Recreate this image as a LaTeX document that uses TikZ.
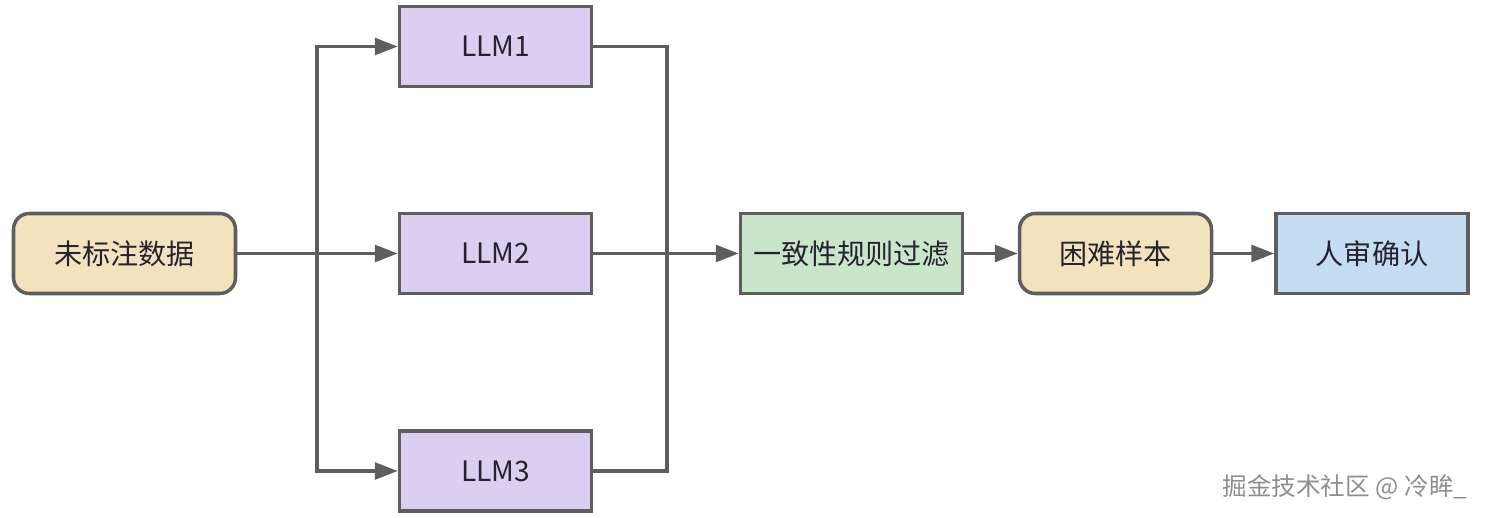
\documentclass[tikz,border=0pt]{standalone}
\usepackage{fontspec}
\setmainfont{Noto Sans CJK SC}
\usetikzlibrary{arrows.meta}
\definecolor{ink}{HTML}{5E5E5E}
\definecolor{txt}{HTML}{26222E}
\definecolor{sand}{HTML}{F2E3BE}
\definecolor{lilac}{HTML}{DACFF0}
\definecolor{mint}{HTML}{C9E6CB}
\definecolor{sky}{HTML}{C4DDF2}
\definecolor{mark}{HTML}{8E8E8E}

\begin{document}
\begin{tikzpicture}[>={Triangle[length=13pt,width=9.5pt]},
  every node/.style={font=\fontsize{16}{18}\selectfont,text=txt},
  box/.style={draw=ink,line width=2pt,minimum height=1.6cm,minimum width=3.84cm,inner sep=0pt},
  soft/.style={box,rounded corners=9pt},
  link/.style={draw=ink,line width=2pt}]
\useasboundingbox (0,0) rectangle (29.72,10.36);
\node[soft,fill=sand,minimum width=4.44cm] (data) at (2.49,5.29) {未标注数据};
\foreach \i/\y in {1/9.43,2/5.29,3/0.94}{
\node[box,fill=lilac] (llm\i) at (9.91,\y) {LLM\i};}
\node[box,fill=mint,minimum width=4.44cm] (filter) at (17.03,5.29) {一致性规则过滤};
\node[soft,fill=sand] (hard) at (22.31,5.29) {困难样本};
\node[box,fill=sky] (check) at (27.44,5.29) {人审确认};
\coordinate (fork) at (6.34,5.29);
\coordinate (join) at (13.34,5.29);
\draw[link,->] (data) -- (llm2);
\foreach \i in {1,3}{
\draw[link,->] (fork) |- (llm\i);
\draw[link] (llm\i) -| (join);}
\draw[link,->] (llm2) -- (filter);
\draw[link,->] (filter) -- (hard);
\draw[link,->] (hard) -- (check);
\node[font=\fontsize{14}{16}\selectfont,text=mark] (credit) at (26.9,0.62) {掘金技术社区 @ 冷眸\_};
\end{tikzpicture}
\end{document}
